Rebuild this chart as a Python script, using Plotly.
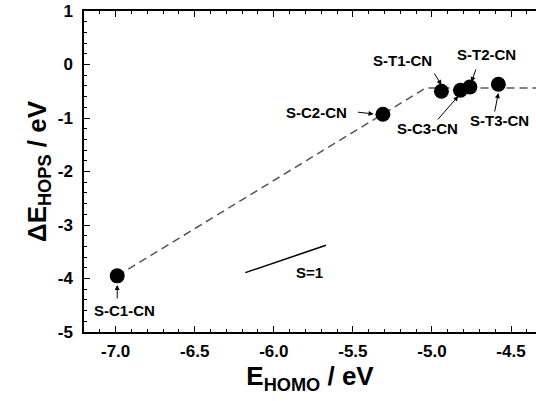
import plotly.graph_objects as go

# HOMO energy (eV) and HOPS energy shift (eV) for each compound
names = ["S-C1-CN", "S-C2-CN", "S-T1-CN", "S-C3-CN", "S-T2-CN", "S-T3-CN"]
e_homo = [-6.99, -5.31, -4.94, -4.82, -4.76, -4.58]
de_hops = [-3.95, -0.93, -0.50, -0.48, -0.42, -0.37]

# Guide line: linear rise, then plateau
guide_x = [-6.99, -5.04, -4.30]
guide_y = [-3.95, -0.44, -0.44]

# Reference slope S=1
slope_x = [-6.18, -5.67]
slope_y = [-3.89, -3.38]

# Axis ticks (labels use a plain hyphen as the minus sign)
x_ticks = [-7.0, -6.5, -6.0, -5.5, -5.0, -4.5]
x_tick_text = ["-7.0", "-6.5", "-6.0", "-5.5", "-5.0", "-4.5"]
y_ticks = [-5, -4, -3, -2, -1, 0, 1]
y_tick_text = ["-5", "-4", "-3", "-2", "-1", "0", "1"]

# Label positions (text centre) and arrow tail/head for each compound
label_x = [-6.941, -5.729, -5.186, -5.028, -4.656, -4.574]
label_y = [-4.60, -0.888, 0.071, -1.187, 0.196, -1.050]
arrow_tail_x = [-6.99, -5.477, -4.990, -4.971, -4.719, -4.605]
arrow_tail_y = [-4.40, -0.888, -0.140, -1.056, -0.065, -0.907]
arrow_head_x = [-6.99, -5.369, -4.940, -4.833, -4.750, -4.580]
arrow_head_y = [-4.12, -0.925, -0.383, -0.589, -0.327, -0.533]

FONT = "Liberation Sans, Arial, sans-serif"

fig = go.Figure()

fig.add_trace(go.Scatter(
    x=guide_x, y=guide_y, mode="lines",
    line=dict(color="#555555", width=1.5, dash="8px,5px"),
    hoverinfo="skip", showlegend=False,
))
fig.add_trace(go.Scatter(
    x=slope_x, y=slope_y, mode="lines",
    line=dict(color="black", width=1.5),
    hoverinfo="skip", showlegend=False,
))
fig.add_trace(go.Scatter(
    x=e_homo, y=de_hops, mode="markers",
    marker=dict(color="black", size=15),
    showlegend=False,
))

annotations = []
for name, lx, ly in zip(names, label_x, label_y):
    annotations.append(dict(
        x=lx, y=ly, xref="x", yref="y", text=name, showarrow=False,
        font=dict(family=FONT, size=15, color="black", weight="bold"),
    ))
for tx, ty, hx, hy in zip(arrow_tail_x, arrow_tail_y, arrow_head_x, arrow_head_y):
    annotations.append(dict(
        x=hx, y=hy, ax=tx, ay=ty, xref="x", yref="y", axref="x", ayref="y",
        text="", showarrow=True, arrowhead=2, arrowsize=1, arrowwidth=1,
        arrowcolor="black", standoff=0, startstandoff=0,
    ))
annotations.append(dict(
    x=-5.773, y=-3.897, xref="x", yref="y", text="S=1", showarrow=False,
    font=dict(family=FONT, size=15, color="black", weight="bold"),
))

axis_common = dict(
    showgrid=False, zeroline=False, showline=True, linecolor="black", linewidth=1.5,
    ticks="inside", ticklen=6, tickwidth=1.2, tickcolor="black",
    tickfont=dict(family=FONT, size=17, color="black", weight="bold"),
)

fig.update_layout(
    width=536, height=401,
    margin=dict(l=84, r=0, t=11, b=69),
    paper_bgcolor="white", plot_bgcolor="white",
    annotations=annotations,
    xaxis=dict(
        range=[-7.2, -4.342], tickmode="array", tickvals=x_ticks, ticktext=x_tick_text,
        mirror="ticks", ticklabelstandoff=3,
        minor=dict(ticks="inside", ticklen=3, tickmode="linear", tick0=-7.0, dtick=0.1,
                   tickcolor="black", tickwidth=1),
        title=dict(text="E<sub>HOMO</sub> / eV", standoff=3,
                   font=dict(family=FONT, size=26, color="black", weight="bold")),
        **axis_common,
    ),
    yaxis=dict(
        range=[-5, 1], tickmode="array", tickvals=y_ticks, ticktext=y_tick_text,
        ticklabelstandoff=6,
        minor=dict(ticks="inside", ticklen=3, tickmode="linear", tick0=0, dtick=0.2,
                   tickcolor="black", tickwidth=1),
        title=dict(text="ΔE<sub>HOPS</sub> / eV", standoff=4,
                   font=dict(family=FONT, size=26, color="black", weight="bold")),
        **axis_common,
    ),
)

fig.write_html("out.html")
